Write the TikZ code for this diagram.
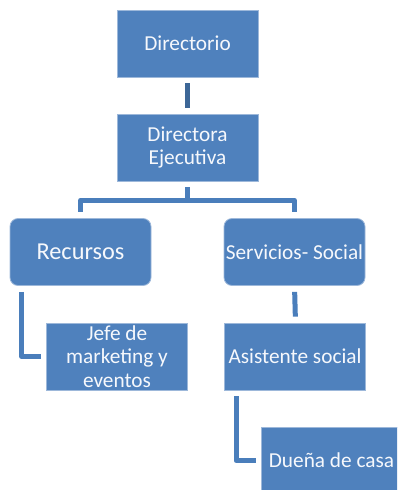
\documentclass[tikz,border=0pt]{standalone}
\usepackage{fontspec}
\setmainfont{Carlito}
\definecolor{boxblue}{HTML}{4F81BD}
\definecolor{boxedge}{HTML}{9DB8DA}
\definecolor{connblue}{HTML}{4A7EBB}
\definecolor{conndark}{HTML}{3D6797}
\definecolor{txt}{HTML}{F6F8FC}
\begin{document}
\begin{tikzpicture}[x=1pt,y=-1pt,
  orgbox/.style={draw=boxedge,line width=0.8pt,fill=boxblue,text=txt,
    minimum width=141pt,minimum height=67pt,inner sep=0pt,
    align=center,font=\fontsize{21.3}{23.5}\selectfont},
  roundbox/.style={orgbox,rounded corners=8pt},
  conn/.style={draw=connblue,line width=5pt,line join=round}]
\useasboundingbox (0,0) rectangle (397,490);
\begin{scope}
\clip (0,0) rectangle (397,490);
\node[orgbox] (dir) at (187.5,43.5) {Directorio};
\node[orgbox] (de) at (187.5,147.5) {Directora\\Ejecutiva};
\node[roundbox,font=\fontsize{24.3}{27}\selectfont] (rec) at (80.5,252) {Recursos};
\node[roundbox] (ser) at (294.5,252) {Servicios- Social};
\node[orgbox] (jefe) at (117,356.5) {Jefe de\\marketing y\\eventos};
\node[orgbox] (asis) at (295,356.5) {Asistente social};
\node[orgbox] (duena) at (331.5,460.5) {Dueña de casa};
\end{scope}
\draw[conn,draw=conndark,shorten <=6pt,shorten >=6pt] (dir.south) -- (de.north);
\coordinate (hub) at ([yshift=-19pt]de.south);
\draw[conn] ([yshift=-6pt]de.south) -- (hub);
\draw[conn] (hub) -| ([yshift=6pt]rec.north);
\draw[conn] (hub) -| ([yshift=6pt]ser.north);
\draw[conn,shorten <=6pt,shorten >=5pt] ([xshift=-58.7pt]rec.south) |- (jefe.west);
\draw[conn,shorten <=6pt,shorten >=6pt] (ser.south) -- ([xshift=0.5pt]asis.north);
\draw[conn,shorten <=6pt,shorten >=5pt] ([xshift=-59pt]asis.south) |- (duena.west);
\end{tikzpicture}
\end{document}
